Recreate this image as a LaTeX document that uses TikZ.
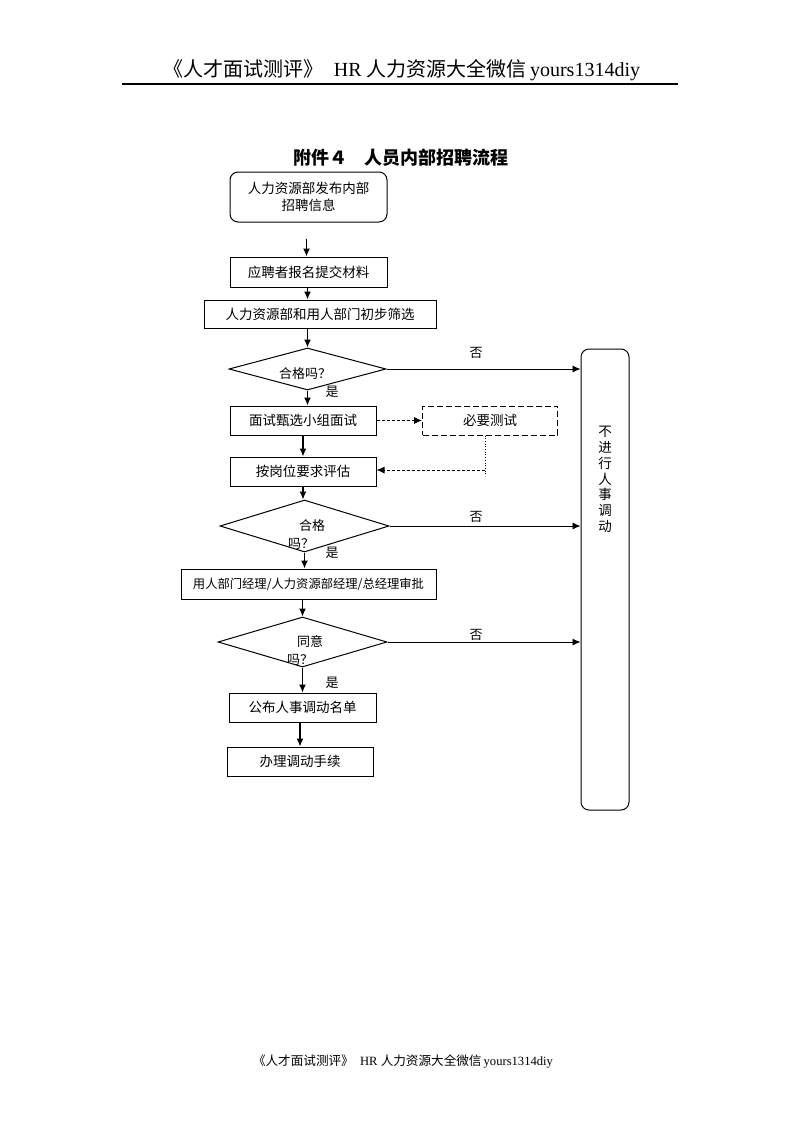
\documentclass[tikz,border=0pt]{standalone}
\usepackage{fontspec}
\setmainfont{Liberation Serif}
\newfontfamily\cjk{Noto Sans CJK SC}
\usetikzlibrary{shapes.geometric,arrows.meta}
\tikzset{
  box/.style={draw, line width=1pt, inner sep=0pt, align=center, font=\cjk\fontsize{13.5}{17}\selectfont},
  rbox/.style={box, rounded corners=8pt},
  dbox/.style={box, dashed, dash pattern=on 6pt off 3pt},
  dia/.style={draw, line width=1pt, diamond, inner sep=0pt},
  lbl/.style={inner sep=0pt, font=\cjk\fontsize{13}{15}\selectfont},
  arr/.style={line width=1.2pt, -{Latex[length=8pt,width=7pt]}},
  thin arr/.style={line width=0.9pt, -{Latex[length=8pt,width=7pt]}},
}
\begin{document}
\begin{tikzpicture}[x=1pt,y=-1pt]
\useasboundingbox (0,0) rectangle (800,1132);
\fill[white] (0,0) rectangle (800,1132);
% header
\node[inner sep=0pt, font=\fontsize{20}{24}\selectfont] (hdr) at (402,70) {{\cjk 《人才面试测评》}\hspace{0.5em}HR {\cjk 人力资源大全微信}\,yours1314diy};
\coordinate (hl) at (122,84);
\coordinate (hr) at (678,84);
\draw[line width=1.2pt] (hl) -- (hr);
% title
\node[inner sep=0pt, font=\cjk\bfseries\fontsize{18}{20}\selectfont] (title) at (401,158) {附件４\hspace{0.9em}人员内部招聘流程};
% boxes
\node[rbox, minimum width=157pt, minimum height=50pt] (b1) at (308.5,197) {人力资源部发布内部\\招聘信息};
\node[box, minimum width=157pt, minimum height=30pt] (b2) at (308.5,272) {应聘者报名提交材料};
\node[box, minimum width=232pt, minimum height=28pt] (b3) at (320,314) {人力资源部和用人部门初步筛选};
\node[dia, minimum width=157pt, minimum height=42pt] (d1) at (307.5,369) {};
\node[lbl] (d1t) at (305,374) {合格吗？};
\node[box, minimum width=146pt, minimum height=29pt] (b4) at (303,420.5) {面试甄选小组面试};
\node[dbox, minimum width=135pt, minimum height=29pt] (t) at (490,420.5) {必要测试};
\node[box, minimum width=146pt, minimum height=29pt] (b5) at (303,471.5) {按岗位要求评估};
\node[dia, minimum width=169pt, minimum height=52pt] (d2) at (304.5,526) {};
\node[lbl] (d2a) at (312,526) {合格};
\node[lbl] (d2b) at (301,544) {吗？};
\node[box, minimum width=255pt, minimum height=30pt, font=\cjk\fontsize{12.3}{14}\selectfont] (b6) at (308.5,584) {用人部门经理/人力资源部经理/总经理审批};
\node[dia, minimum width=169pt, minimum height=50pt] (d3) at (302.5,642) {};
\node[lbl] (d3a) at (310,642) {同意};
\node[lbl] (d3b) at (300,660) {吗？};
\node[box, minimum width=147pt, minimum height=29pt] (b7) at (302.5,707.5) {公布人事调动名单};
\node[box, minimum width=146pt, minimum height=29pt] (b8) at (300,761.5) {办理调动手续};
\node[rbox, minimum width=48pt, minimum height=461pt] (R) at (605,579.5) {};
\node[lbl, align=center, font=\cjk\fontsize{13.5}{15.8}\selectfont] (Rt) at (605,479.5) {不\\进\\行\\人\\事\\调\\动};
% yes labels
\node[lbl] (y1) at (332,392) {是};
\node[lbl] (y2) at (332,553) {是};
\node[lbl] (y3) at (332,683) {是};
% no labels
\node[lbl] (n1) at (476,353) {否};
\node[lbl] (n2) at (476,517) {否};
\node[lbl] (n3) at (476,635) {否};
% vertical arrows
\draw[arr] ([xshift=-2pt,yshift=-16pt]b1.south) -- ([xshift=-2pt]b2.north);
\draw[arr] ([xshift=-1pt]b2.south) -- ([xshift=-1pt]b2.south |- b3.north);
\draw[arr] ([xshift=-1pt]b2.south |- b3.south) -- ([xshift=-1pt]b2.south |- d1.north);
\draw[arr] (d1.south) -- (d1.south |- b4.north);
\draw[arr] (b4.south) -- (b4.south |- b5.north);
\draw[arr] (b5.south) -- (b5.south |- d2.north);
\draw[arr] (d2.south) -- (d2.south |- b6.north);
\draw[arr] (d3.north |- b6.south) -- (d3.north);
\draw[arr] (d3.south) -- (d3.south |- b7.north);
\draw[arr] (b8.north |- b7.south) -- (b8.north);
% no arrows
\draw[thin arr] (d1.east) -- (d1.east -| R.west);
\draw[thin arr] (d2.east) -- (d2.east -| R.west);
\draw[thin arr] (d3.east) -- (d3.east -| R.west);
% dashed test branch
\draw[thin arr, dash pattern=on 3pt off 2pt] (b4.east) -- (t.west);
\coordinate (tj) at (485,470);
\coordinate (te) at (485,476);
\draw[line width=0.7pt, dotted] ([xshift=-5pt]t.south) -- (te);
\draw[thin arr, dash pattern=on 3pt off 2pt] (tj) -- (tj -| b5.east);
% footer
\node[inner sep=0pt, font=\fontsize{12.6}{14}\selectfont] (ftr) at (403,1061) {{\cjk 《人才面试测评》}\hspace{0.5em}HR {\cjk 人力资源大全微信}\,yours1314diy};
\end{tikzpicture}
\end{document}
